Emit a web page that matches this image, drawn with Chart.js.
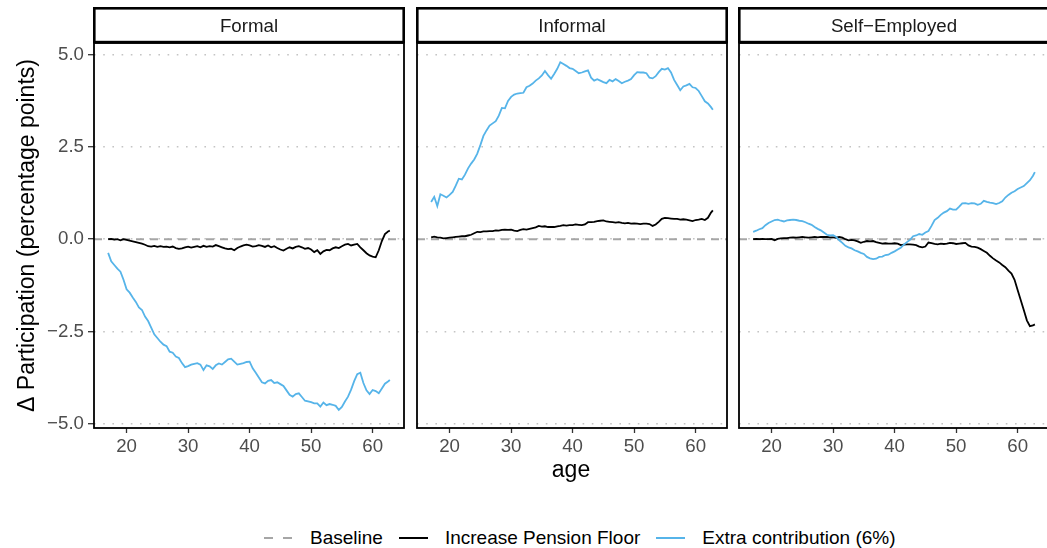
<!DOCTYPE html>
<html lang="en">
<head>
    <meta charset="UTF-8">
    <title>Participation by age</title>
    <script src="https://cdn.jsdelivr.net/npm/chart.js@4.4.1/dist/chart.umd.min.js"></script>
    <style>
        body { margin: 0; background: #fff; }
        .figure {
            position: relative;
            width: 1047px;
            height: 548px;
            overflow: hidden;
            background: #fff;
            font-family: "Liberation Sans", Arial, sans-serif;
        }
        .figure canvas { position: absolute; top: 0; }
        .x-title {
            position: absolute;
            left: 471px;
            width: 200px;
            top: 456px;
            text-align: center;
            font-size: 23px;
            color: #000;
        }
        .legend {
            position: absolute;
            left: 264px;
            top: 527px;
            display: flex;
            align-items: center;
            font-size: 19px;
            color: #000;
            white-space: nowrap;
        }
        .legend .key { width: 29px; height: 2px; margin-right: 17px; }
        .legend .label { margin-right: 16px; }
    </style>
</head>
<body>
<div class="figure">
    <canvas id="panel0" width="408" height="458" style="left:0px"></canvas>
    <canvas id="panel1" width="318" height="458" style="left:413px"></canvas>
    <canvas id="panel2" width="318" height="458" style="left:735px"></canvas>
    <div class="x-title">age</div>
    <div class="legend" id="legend"></div>
</div>
<script>
// facets and series
const PANELS = ['Formal', 'Informal', 'Self\u2212Employed'];
const SERIES_NAMES = ['Baseline', 'Increase Pension Floor', 'Extra contribution (6%)'];
const SERIES_COLORS = ['#a6a6a6', '#000000', '#56B4E9'];
const BASELINE = 0;

const X_TICKS = [20, 30, 40, 50, 60];
const Y_TICKS = [-5, -2.5, 0, 2.5, 5];

const AGES = [
    17, 17.5, 18, 18.5, 19, 19.5, 20, 20.5, 21, 21.5,
    22, 22.5, 23, 23.5, 24, 24.5, 25, 25.5, 26, 26.5,
    27, 27.5, 28, 28.5, 29, 29.5, 30, 30.5, 31, 31.5,
    32, 32.5, 33, 33.5, 34, 34.5, 35, 35.5, 36, 36.5,
    37, 37.5, 38, 38.5, 39, 39.5, 40, 40.5, 41, 41.5,
    42, 42.5, 43, 43.5, 44, 44.5, 45, 45.5, 46, 46.5,
    47, 47.5, 48, 48.5, 49, 49.5, 50, 50.5, 51, 51.5,
    52, 52.5, 53, 53.5, 54, 54.5, 55, 55.5, 56, 56.5,
    57, 57.5, 58, 58.5, 59, 59.5, 60, 60.5, 61, 61.5,
    62, 62.5, 62.8
];

// change in participation, percentage points
const FORMAL_PENSION = [
    0.00, 0.01, -0.01, 0.00, -0.03, 0.00, -0.02, -0.04, -0.06, -0.08,
    -0.10, -0.12, -0.15, -0.19, -0.20, -0.18, -0.21, -0.19, -0.21, -0.20,
    -0.22, -0.20, -0.24, -0.26, -0.25, -0.22, -0.20, -0.23, -0.21, -0.19,
    -0.22, -0.18, -0.21, -0.19, -0.20, -0.16, -0.19, -0.22, -0.25, -0.27,
    -0.26, -0.30, -0.24, -0.20, -0.17, -0.15, -0.17, -0.20, -0.19, -0.16,
    -0.18, -0.21, -0.17, -0.22, -0.19, -0.24, -0.28, -0.31, -0.26, -0.22,
    -0.25, -0.21, -0.19, -0.22, -0.26, -0.24, -0.28, -0.35, -0.30, -0.40,
    -0.33, -0.29, -0.30, -0.25, -0.22, -0.24, -0.19, -0.15, -0.13, -0.17,
    -0.15, -0.13, -0.22, -0.30, -0.38, -0.44, -0.47, -0.49, -0.30, -0.05,
    0.14, 0.21, 0.23
];
const FORMAL_EXTRA = [
    -0.37, -0.60, -0.70, -0.80, -0.88, -1.10, -1.36, -1.45, -1.58, -1.70,
    -1.85, -1.92, -2.10, -2.22, -2.40, -2.58, -2.68, -2.78, -2.86, -2.90,
    -3.05, -3.08, -3.18, -3.22, -3.36, -3.47, -3.44, -3.40, -3.38, -3.36,
    -3.40, -3.55, -3.42, -3.45, -3.52, -3.42, -3.37, -3.40, -3.33, -3.26,
    -3.24, -3.32, -3.40, -3.38, -3.36, -3.33, -3.32, -3.50, -3.62, -3.75,
    -3.88, -3.91, -3.84, -3.82, -3.90, -3.88, -3.93, -3.98, -4.10, -4.22,
    -4.27, -4.20, -4.18, -4.28, -4.38, -4.40, -4.42, -4.45, -4.45, -4.54,
    -4.43, -4.50, -4.47, -4.49, -4.52, -4.63, -4.55, -4.40, -4.27, -4.08,
    -3.85, -3.66, -3.62, -3.90, -4.10, -4.20, -4.09, -4.12, -4.18, -4.05,
    -3.92, -3.86, -3.82
];
const INFORMAL_PENSION = [
    0.05, 0.07, 0.05, 0.04, 0.02, 0.03, 0.04, 0.05, 0.06, 0.07,
    0.08, 0.08, 0.10, 0.12, 0.16, 0.20, 0.19, 0.21, 0.21, 0.22,
    0.22, 0.24, 0.23, 0.25, 0.26, 0.25, 0.26, 0.23, 0.22, 0.25,
    0.27, 0.26, 0.28, 0.30, 0.32, 0.36, 0.34, 0.35, 0.33, 0.33,
    0.33, 0.35, 0.36, 0.38, 0.37, 0.38, 0.38, 0.40, 0.39, 0.38,
    0.40, 0.46, 0.46, 0.47, 0.49, 0.50, 0.51, 0.48, 0.47, 0.46,
    0.45, 0.46, 0.44, 0.43, 0.44, 0.42, 0.43, 0.42, 0.41, 0.42,
    0.42, 0.41, 0.36, 0.40, 0.47, 0.55, 0.58, 0.57, 0.56, 0.55,
    0.55, 0.53, 0.54, 0.53, 0.51, 0.49, 0.52, 0.53, 0.55, 0.52,
    0.58, 0.72, 0.78
];
const INFORMAL_EXTRA = [
    1.01, 1.15, 0.90, 1.22, 1.18, 1.13, 1.20, 1.28, 1.45, 1.64,
    1.62, 1.75, 1.92, 2.05, 2.16, 2.32, 2.55, 2.80, 2.95, 3.08,
    3.14, 3.20, 3.35, 3.56, 3.55, 3.75, 3.86, 3.92, 3.95, 3.96,
    3.97, 4.12, 4.16, 4.22, 4.30, 4.36, 4.44, 4.56, 4.45, 4.35,
    4.48, 4.62, 4.80, 4.75, 4.70, 4.64, 4.62, 4.56, 4.50, 4.52,
    4.55, 4.58, 4.38, 4.30, 4.34, 4.30, 4.26, 4.23, 4.32, 4.28,
    4.34, 4.29, 4.23, 4.27, 4.30, 4.34, 4.45, 4.53, 4.52, 4.52,
    4.50, 4.38, 4.36, 4.42, 4.53, 4.62, 4.60, 4.64, 4.52, 4.32,
    4.18, 4.04, 4.14, 4.17, 4.21, 4.12, 4.10, 4.02, 3.88, 3.74,
    3.68, 3.58, 3.51
];
const SELF_PENSION = [
    0.00, 0.01, 0.00, 0.01, 0.00, 0.00, 0.01, -0.03, 0.01, 0.02,
    0.03, 0.03, 0.04, 0.05, 0.04, 0.05, 0.06, 0.05, 0.04, 0.05,
    0.06, 0.05, 0.06, 0.06, 0.06, 0.05, 0.05, 0.04, 0.06, 0.04,
    0.00, -0.03, -0.02, -0.03, -0.06, -0.10, -0.07, -0.05, -0.06, -0.05,
    -0.08, -0.10, -0.12, -0.11, -0.12, -0.12, -0.11, -0.12, -0.16, -0.15,
    -0.14, -0.14, -0.15, -0.16, -0.20, -0.22, -0.20, -0.09, -0.11, -0.13,
    -0.14, -0.12, -0.13, -0.12, -0.10, -0.11, -0.13, -0.12, -0.11, -0.10,
    -0.17, -0.20, -0.21, -0.23, -0.27, -0.32, -0.37, -0.45, -0.52, -0.58,
    -0.63, -0.70, -0.76, -0.85, -0.93, -1.10, -1.38, -1.65, -1.92, -2.20,
    -2.36, -2.34, -2.31
];
const SELF_EXTRA = [
    0.20, 0.23, 0.27, 0.30, 0.38, 0.44, 0.48, 0.52, 0.53, 0.50,
    0.48, 0.51, 0.52, 0.53, 0.52, 0.50, 0.49, 0.46, 0.42, 0.39,
    0.33, 0.28, 0.24, 0.18, 0.12, 0.10, 0.11, 0.06, -0.03, -0.10,
    -0.18, -0.22, -0.25, -0.30, -0.33, -0.37, -0.40, -0.48, -0.52, -0.54,
    -0.53, -0.48, -0.47, -0.43, -0.42, -0.37, -0.33, -0.28, -0.23, -0.15,
    -0.08, -0.02, 0.08, 0.10, 0.14, 0.12, 0.18, 0.22, 0.36, 0.52,
    0.58, 0.66, 0.72, 0.76, 0.83, 0.80, 0.80, 0.88, 0.97, 0.98,
    0.96, 0.98, 0.97, 0.93, 0.96, 1.04, 1.01, 0.99, 0.98, 0.95,
    0.98, 1.03, 1.13, 1.20, 1.26, 1.30, 1.36, 1.40, 1.44, 1.52,
    1.60, 1.72, 1.82
];

const PENSION = [FORMAL_PENSION, INFORMAL_PENSION, SELF_PENSION];
const EXTRA = [FORMAL_EXTRA, INFORMAL_EXTRA, SELF_EXTRA];

const FONT = '"Liberation Sans", Arial, sans-serif';
Chart.defaults.font.family = FONT;

function toPoints(values) {
    return AGES.map((age, i) => ({ x: age, y: values[i] }));
}

function fmtTick(v) {
    return v.toFixed(1).replace('-', '\u2212');
}

// dashed reference line, panel box and facet strip
const panelDecor = {
    id: 'panelDecor',
    beforeDatasetsDraw(chart) {
        const { ctx, chartArea } = chart;
        const y = chart.scales.y.getPixelForValue(BASELINE);
        ctx.save();
        ctx.strokeStyle = SERIES_COLORS[0];
        ctx.lineWidth = 2;
        ctx.setLineDash([8, 6]);
        ctx.beginPath();
        ctx.moveTo(chartArea.left, y);
        ctx.lineTo(chartArea.right, y);
        ctx.stroke();
        ctx.restore();
    },
    afterDraw(chart, args, opts) {
        const { ctx, chartArea } = chart;
        const { left, right, top, bottom } = chartArea;
        ctx.save();
        ctx.strokeStyle = '#000';
        ctx.lineWidth = 1.8;
        ctx.strokeRect(left, top, right - left, bottom - top);
        // strip
        const sTop = 8;
        ctx.fillStyle = '#fff';
        ctx.fillRect(left, sTop, right - left, top - sTop);
        ctx.lineWidth = 2.6;
        ctx.strokeRect(left + 0.3, sTop + 0.3, right - left - 0.6, top - sTop - 1.2);
        ctx.fillStyle = '#1a1a1a';
        ctx.font = '18.7px ' + FONT;
        ctx.textAlign = 'center';
        ctx.textBaseline = 'middle';
        ctx.fillText(opts.title, (left + right) / 2, (sTop + top) / 2 + 1);
        ctx.restore();
    }
};

function makePanel(idx) {
    const showY = idx === 0;
    new Chart(document.getElementById('panel' + idx), {
        type: 'line',
        data: {
            datasets: [
                {
                    label: SERIES_NAMES[2],
                    data: toPoints(EXTRA[idx]),
                    borderColor: SERIES_COLORS[2],
                    borderWidth: 1.8,
                    pointRadius: 0,
                    tension: 0
                },
                {
                    label: SERIES_NAMES[1],
                    data: toPoints(PENSION[idx]),
                    borderColor: SERIES_COLORS[1],
                    borderWidth: 1.8,
                    pointRadius: 0,
                    tension: 0
                }
            ]
        },
        options: {
            responsive: false,
            animation: false,
            devicePixelRatio: 1,
            layout: { padding: { top: 43, right: 4, left: showY ? 0 : 4, bottom: 0 } },
            plugins: {
                legend: { display: false },
                tooltip: { enabled: false },
                panelDecor: { title: PANELS[idx] }
            },
            scales: {
                x: {
                    type: 'linear',
                    min: 14.7,
                    max: 65.1,
                    afterBuildTicks: s => { s.ticks = X_TICKS.map(v => ({ value: v })); },
                    afterFit: s => { s.height = 30; },
                    grid: {
                        drawOnChartArea: false,
                        drawTicks: true,
                        tickLength: 5,
                        tickColor: '#333',
                        tickWidth: 1.3
                    },
                    border: { display: false },
                    ticks: {
                        color: '#4d4d4d',
                        font: { size: 18.7 },
                        padding: 3,
                        maxRotation: 0,
                        callback: v => String(v)
                    }
                },
                y: {
                    type: 'linear',
                    min: -5.12,
                    max: 5.32,
                    afterBuildTicks: s => { s.ticks = Y_TICKS.map(v => ({ value: v })); },
                    afterFit: s => { s.width = showY ? 94 : 0; },
                    grid: {
                        color: '#c4c4c4',
                        lineWidth: 1.4,
                        drawTicks: showY,
                        tickLength: 6,
                        tickColor: '#333',
                        tickWidth: 1.3,
                        tickBorderDash: []
                    },
                    border: { display: false, dash: [1.6, 7.6] },
                    ticks: {
                        display: showY,
                        color: '#4d4d4d',
                        font: { size: 18.7 },
                        padding: 4,
                        callback: v => fmtTick(v)
                    },
                    title: {
                        display: showY,
                        text: '\u0394 Participation (percentage points)',
                        color: '#000',
                        font: { size: 23 },
                        padding: { top: 14, bottom: 0 }
                    }
                }
            }
        },
        plugins: [panelDecor]
    });
}

PANELS.forEach((p, i) => makePanel(i));

// legend row
const legend = document.getElementById('legend');
const keyStyles = [
    'repeating-linear-gradient(to right, ' + SERIES_COLORS[0] + ' 0 9px, transparent 9px 19px)',
    SERIES_COLORS[1],
    SERIES_COLORS[2]
];
SERIES_NAMES.forEach((name, i) => {
    const key = document.createElement('span');
    key.className = 'key';
    key.style.background = keyStyles[i];
    const label = document.createElement('span');
    label.className = 'label';
    label.textContent = name;
    legend.appendChild(key);
    legend.appendChild(label);
});
</script>
</body>
</html>
